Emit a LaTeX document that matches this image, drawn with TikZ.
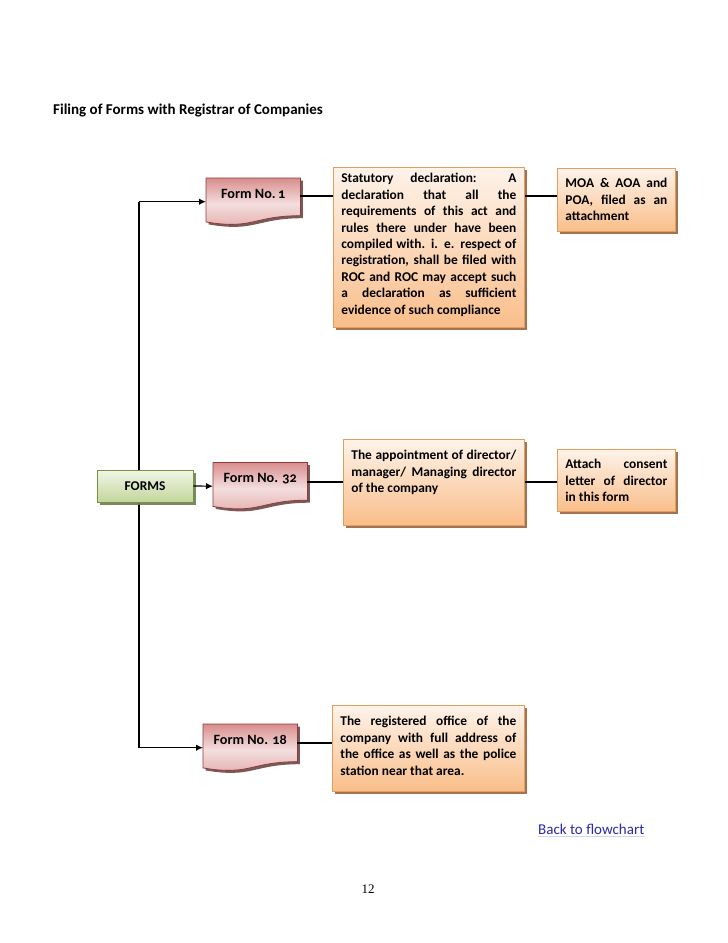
\documentclass[tikz,border=0pt]{standalone}
\usepackage{fontspec}
\setmainfont{Carlito}[Numbers=OldStyle]
\newfontfamily\pgnumfont{Liberation Serif}
\usetikzlibrary{shadows,arrows.meta,calc}
\pgfdeclarelayer{bg}
\pgfdeclarelayer{paper}
\pgfsetlayers{paper,bg,main}
\definecolor{otop}{HTML}{FEF3EA}
\definecolor{obot}{HTML}{F9BE8A}
\definecolor{oborder}{HTML}{E39E5E}
\definecolor{oshadow}{HTML}{9A6440}
\definecolor{ftop}{HTML}{D88E8D}
\definecolor{fmid}{HTML}{F4DEDE}
\definecolor{fbot}{HTML}{E2ABAA}
\definecolor{fborder}{HTML}{8E3B39}
\definecolor{fshadow}{HTML}{7A5A58}
\definecolor{gtop}{HTML}{F1F6E8}
\definecolor{gbot}{HTML}{C3D69B}
\definecolor{gborder}{HTML}{76923C}
\definecolor{gshadow}{HTML}{6E7A5C}
\definecolor{linkblue}{HTML}{2B2BA8}
\newcommand\boxtext[4]{\parbox[c][#2][t]{#1}{\vspace*{#3}#4}}
\newcommand\docshape[1]{%
  \path[fill=fshadow, transform canvas={shift={(2.5pt,-2.5pt)}}]
    (#1.north west) -- (#1.north east) -- ($(#1.north east)+(0,37.7)$)
    .. controls ($(#1.north)+(0,37.7)$) and ($(#1.north)+(0,52)$) .. ($(#1.north west)+(0,43.9)$) -- cycle;
  \path[draw=fborder, line width=0.8pt, top color=ftop, bottom color=fbot, middle color=fmid]
    (#1.north west) -- (#1.north east) -- ($(#1.north east)+(0,37.7)$)
    .. controls ($(#1.north)+(0,37.7)$) and ($(#1.north)+(0,52)$) .. ($(#1.north west)+(0,43.9)$) -- cycle;}
\begin{document}
\begin{tikzpicture}[x=1pt,y=-1pt,
  txt/.style={font=\bfseries\fontsize{13.4}{16.4}\selectfont},
  obox/.style={draw=oborder, line width=0.8pt, top color=otop, bottom color=obot,
    drop shadow={shadow xshift=2.5pt, shadow yshift=-2.5pt, fill=oshadow, opacity=0.9},
    inner xsep=8pt, inner ysep=0pt, anchor=north west, txt},
  formtxt/.style={font=\bfseries\fontsize{14.2}{16.4}\selectfont, minimum width=94pt, minimum height=47pt, text height=9pt,
    text depth=16pt, inner sep=0pt, anchor=north west},
  gbox/.style={draw=gborder, line width=0.8pt, top color=gtop, bottom color=gbot,
    drop shadow={shadow xshift=2.5pt, shadow yshift=-2.5pt, fill=gshadow, opacity=0.9},
    minimum width=96pt, minimum height=32pt, inner sep=0pt, txt},
  link/.style={line width=1.2pt, black},
  arr/.style={link, -{Latex[length=7pt,width=6.5pt]}}]
\useasboundingbox (0,0) rectangle (728,943);
\begin{pgfonlayer}{paper}
  \fill[white] (0,0) rectangle (728,943);
\end{pgfonlayer}

\node[font=\bfseries\fontsize{15}{18}\selectfont, anchor=west, inner sep=0pt] (title) at (53,111) {Filing of Forms with Registrar of Companies};

% form nodes (text only; shapes drawn on background)
\node[formtxt] (f1) at (206,178) {Form No.\,1};
\node[formtxt] (f32) at (213,462.5) {Form No. 32};
\node[formtxt] (f18) at (203,724) {Form No. 18};

\node[gbox] (forms) at (145,486) {FORMS};

\node[obox] (stat) at (333,167) {\boxtext{175pt}{160pt}{6pt}{Statutory declaration: A\linebreak declaration that all the\linebreak requirements of this act and\linebreak rules there under have been\linebreak compiled with. i. e. respect of\linebreak registration, shall be filed with\linebreak ROC and ROC may accept such\linebreak a declaration as sufficient\linebreak evidence of such compliance}};
\node[obox] (moa) at (557,168) {\boxtext{102pt}{63pt}{10pt}{MOA \& AOA and\linebreak POA, filed as an\linebreak attachment}};
\node[obox] (app) at (343,439) {\boxtext{165pt}{86pt}{11pt}{The appointment of director/\linebreak manager/ Managing director\linebreak of the company}};
\node[obox] (att) at (557,449) {\boxtext{102pt}{62pt}{10pt}{Attach consent\linebreak letter of director\linebreak in this form}};
\node[obox] (reg) at (332,705) {\boxtext{176pt}{86pt}{11pt}{The registered office of the\linebreak company with full address of\linebreak the office as well as the police\linebreak station near that area.}};

\coordinate (trunk) at (139,0);
\coordinate (r1) at (0,196);
\coordinate (r2) at (0,482);
\coordinate (r3) at (0,743);

\begin{pgfonlayer}{bg}
  \draw[link] (trunk |- f1.west) -- (trunk |- f18.west);
  \docshape{f1}
  \docshape{f32}
  \docshape{f18}
\end{pgfonlayer}

\draw[arr] (trunk |- f1.west) -- (f1.west);
\draw[arr] (trunk |- f18.west) -- (f18.west);
\draw[arr] (forms.east) -- (f32.west);

\draw[link] (f1.east |- r1) -- (stat.west |- r1);
\draw[link] (stat.east |- r1) -- (moa.west |- r1);
\draw[link] (f32.east |- r2) -- (app.west |- r2);
\draw[link] (app.east |- r2) -- (att.west |- r2);
\draw[link] (f18.east |- r3) -- (reg.west |- r3);

\node[font=\fontsize{15}{18}\selectfont, text=linkblue, anchor=west, inner sep=0pt] (back) at (538,829) {Back to flowchart};
\draw[linkblue!20, line width=0.6pt] ([yshift=-2pt]back.base west) -- ([yshift=-2pt]back.base east);

\node[font=\pgnumfont\fontsize{13}{15}\selectfont, inner sep=0pt] (page) at (368,889) {12};
\end{tikzpicture}
\end{document}
